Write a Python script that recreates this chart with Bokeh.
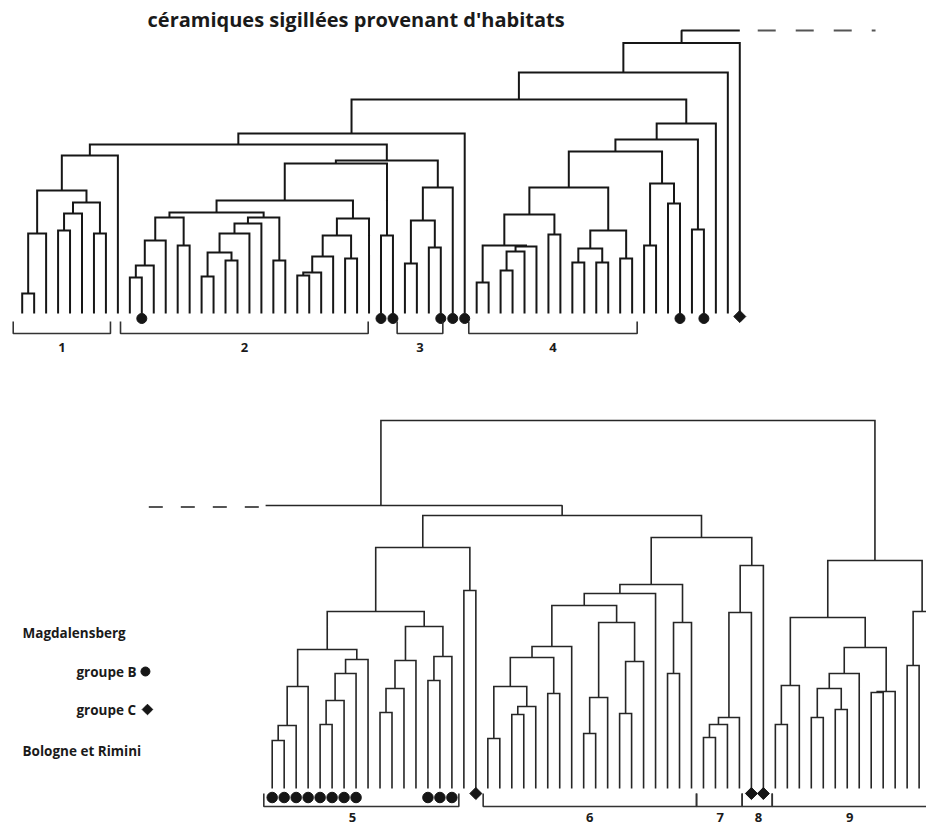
import math
from bokeh.plotting import figure
from bokeh.layouts import column
from bokeh.models import Range1d
from bokeh.core.properties import value
from bokeh.embed import file_html
from bokeh.resources import INLINE

# ---------------------------------------------------------------- data
TITLE = "céramiques sigillées provenant d'habitats"
LEGEND_HEAD = ["Magdalensberg", "Bologne et Rimini"]
LEGEND_B = "groupe B"
LEGEND_C = "groupe C"

# Dendrogram merges: [left, right, height]; ints are leaf ranks along the axis,
# height is the linkage level (0 at the leaves).
# ----- upper half (61 leaves)
top_g1 = [[[[0, 1, 20], 2, 80], [[[3, 4, 83], 5, 100], [6, 7, 80], 111], 123], 8, 158]
top_g2a = [[[[9, 10, 36], 11, 48], 12, 73], [13, 14, 68], 96]
top_g2b = [[[[[15, 16, 37], [17, 18, 53], 61], 19, 80], 20, 90], [21, 22, 53], 96]
top_g2c = [[[[[23, 24, 38], 25, 41], 26, 57], [27, 28, 55], 78], 29, 95]
top_g2 = [[[top_g2a, top_g2b, 101], top_g2c, 113], [30, 31, 78], 150]
top_g3 = [[[32, 33, 50], [34, 35, 66], 93], 36, 126]
top_g4a = [[[38, 39, 31], [[[40, 41, 43], 42, 62], 43, 67], 68], [44, 45, 79], 99]
top_g4b = [[[46, 47, 51], [48, 49, 51], 65], [50, 51, 55], 83]
top_g4 = [[[top_g4a, top_g4b, 126], [[52, 53, 68], [54, 55, 110], 130], 162], [56, 57, 84], 174]
top_tree = [[[[[top_g1, [top_g2, top_g3, 153], 169], 37, 180], [top_g4, 58, 190], 214], 59, 241], 60, 270.5]
top_n_leaves = 61
top_groupe_b = [10, 30, 31, 35, 36, 37, 55, 57]
top_groupe_c = [60]
top_group_labels = ["1", "2", "3", "4"]
top_group_spans = [(-0.75, 7.38), (8.22, 28.93), (31.35, 35.17), (37.34, 51.42)]

# level at which the two halves are joined
link_height = 283

# ----- lower half (56 leaves, the last one beyond the page edge)
bot_g5a = [[[[0, 1, 48], 2, 63], 3, 102], [[[[4, 5, 64], 6, 88], 7, 115], 8, 129], 139]
bot_g5b = [[[[9, 10, 76], 11, 100], 12, 128], [[13, 14, 108], 15, 132], 162]
bot_g5 = [[bot_g5a, bot_g5b, 177], [16, 17, 198], 241]
bot_g6a = [[[[18, 19, 50], [[20, 21, 74], 22, 82], 102], [23, 24, 95], 131], 25, 142]
bot_g6b = [[[26, 27, 55], 28, 91], [[29, 30, 75], 31, 127], 166]
bot_g6 = [[[bot_g6a, bot_g6b, 183], 32, 195], [[33, 34, 115], 35, 166], 204]
bot_g78 = [[[[[36, 37, 51], 38, 64], 39, 71], 40, 176], 41, 223]
bot_g9a = [[42, 43, 64], 44, 103]
bot_g9b = [[[[45, 46, 71], [47, 48, 79], 100], 49, 115], [[50, 51, 96], 52, 97], 141]
bot_g9 = [[bot_g9a, bot_g9b, 171], [[53, 54, 123], 55, 177], 228]
bot_left = [bot_g5, [bot_g6, bot_g78, 251], 273]
bot_root_height = 368
bot_n_leaves = 56
bot_groupe_b = [0, 1, 2, 3, 4, 5, 6, 7, 13, 14, 15]
bot_groupe_c = [17, 40, 41]
bot_group_labels = ["5", "6", "7", "8", "9"]
bot_group_spans = [(-0.70, 15.58), (17.61, 35.42), (35.42, 39.23), (39.23, 41.74), (41.74, 54.9)]
bot_label_pos = [6.7, 26.5, 37.4, 40.6, 48.2]

# ---------------------------------------------------------------- layout helpers
FONT = value("Open Sans")
W = 926
TOP_H, BOT_H = 362, 465
INK = "#161616"


def build(node, paths):
    """Return (x, height) of a node, appending its bracket path."""
    if isinstance(node, int):
        return float(node), 0.0
    left, right, h = node
    xl, hl = build(left, paths)
    xr, hr = build(right, paths)
    paths[0].append([xl, xl, xr, xr])
    paths[1].append([hl, h, h, hr])
    return (xl + xr) / 2.0, h


def make_fig(x0, x1, y0, y1, height):
    p = figure(width=W, height=height, x_range=Range1d(x0, x1), y_range=Range1d(y0, y1),
               output_backend="svg", toolbar_location=None, min_border=0)
    p.axis.visible = False
    p.grid.visible = False
    p.outline_line_color = None
    p.background_fill_color = "white"
    p.border_fill_color = "white"
    return p


def brackets(p, spans, labels, label_pos, y_top, y_bot, y_lab, color, lw):
    xs, ys = [], []
    for a, b in spans:
        xs.append([a, a, b, b])
        ys.append([y_top, y_bot, y_bot, y_top])
    p.multi_line(xs, ys, line_color=color, line_width=lw)
    p.text(x=label_pos, y=[y_lab] * len(labels), text=labels, text_font=FONT,
           text_font_style="bold", text_font_size="13px", text_align="center",
           text_baseline="middle", text_color="#1a1a1a")


def diamonds(p, xs, ys, size):
    p.scatter(xs, ys, marker="square", angle=math.pi / 4, size=size,
              fill_color=INK, line_color=INK)


# ---------------------------------------------------------------- upper figure
top = make_fig(-1.8144, 75.612, -49, 313, TOP_H)
tp = ([], [])
rx, rh = build(top_tree, tp)
top.multi_line(tp[0], tp[1], line_color=INK, line_width=2, line_join="miter")
# join towards the lower half
top.line([rx, rx, top_n_leaves - 1], [rh, link_height, link_height],
         line_color=INK, line_width=2)
top.line([61.5, 71.35], [link_height, link_height], line_color="#555555",
         line_width=2, line_dash="18 20")
top.scatter(top_groupe_b, [-5] * len(top_groupe_b), marker="circle", size=10,
            fill_color=INK, line_color=INK)
diamonds(top, top_groupe_c, [-3] * len(top_groupe_c), 8.5)
brackets(top, top_group_spans, top_group_labels,
         [(a + b) / 2 for a, b in top_group_spans], -8, -20, -34, "#333333", 1.6)
top.text(x=[10.48], y=[294], text=[TITLE], text_font=FONT, text_font_style="bold",
         text_font_size="20px", text_align="left", text_baseline="middle",
         text_color="#1a1a1a")

# ---------------------------------------------------------------- lower figure
bot = make_fig(-22.679, 54.616, -39, 426, BOT_H)
bp = ([], [])
lx, lh = build(bot_left, bp)
gx, gh = build(bot_g9, bp)
stub_x = -6.05                      # where the upper half comes in
mx = (stub_x + lx) / 2.0
bp[0].append([mx, mx, gx, gx])
bp[1].append([link_height, bot_root_height, bot_root_height, gh])
bot.multi_line(bp[0], bp[1], line_color="#262626", line_width=1.6, line_join="miter")
# the joining branch coming from the upper half
bot.line([-0.55, lx, lx], [link_height, link_height, lh], line_color="#262626",
         line_width=1.6)
bot.line([-10.3, -1.1], [link_height - 1.5, link_height - 1.5], line_color="#555555",
         line_width=2, line_dash="14 18")
bot.scatter(bot_groupe_b, [-9] * len(bot_groupe_b), marker="circle", size=10.5,
            fill_color=INK, line_color=INK)
diamonds(bot, bot_groupe_c, [-5] * len(bot_groupe_c), 8.5)
brackets(bot, bot_group_spans, bot_group_labels, bot_label_pos, -5, -18, -29, "#333333", 1.6)

# legend block
bot.text(x=[-20.84, -20.84], y=[156, 38], text=LEGEND_HEAD, text_font=FONT,
         text_font_style="bold", text_font_size="13.5px", text_align="left",
         text_baseline="middle", text_color="#1a1a1a")
bot.text(x=[-16.34, -16.34], y=[117, 79], text=[LEGEND_B, LEGEND_C], text_font=FONT,
         text_font_style="bold", text_font_size="13.5px", text_align="left",
         text_baseline="middle", text_color="#1a1a1a")
bot.scatter([-10.58], [117], marker="circle", size=9, fill_color=INK, line_color=INK)
diamonds(bot, [-10.41], [79], 7.5)

layout = column(top, bot, spacing=0)
open("out.html", "w").write(file_html(layout, INLINE))
